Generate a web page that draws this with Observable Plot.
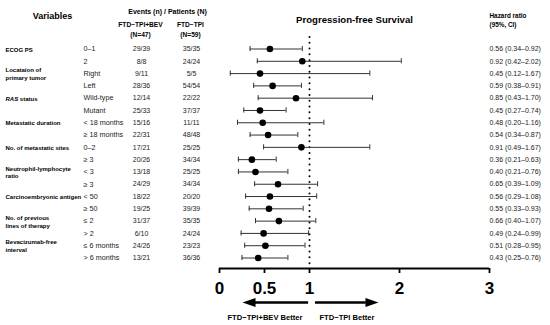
<!DOCTYPE html>
<html>
<head>
<meta charset="utf-8">
<script src="https://cdn.jsdelivr.net/npm/d3@7"></script>
<script src="https://cdn.jsdelivr.net/npm/@observablehq/plot@0.6"></script>
<style>
  html, body { margin: 0; padding: 0; background: #fff; }
  svg { display: block; }
</style>
</head>
<body>
<script>
// ---- data ----
const groups = ["ECOG PS", "Locataion of\nprimary tumor", "RAS status", "Metastatic duration",
  "No. of metastatic sites", "Neutrophil-lymphocyte\nratio", "Carcinoembryonic antigen",
  "No. of previous\nlines of therapy", "Bevacizumab-free\ninterval"];
const subgroups = ["0–1", "2", "Right", "Left", "Wild-type", "Mutant", "< 18 months", "≥ 18 months",
  "0–2", "≥ 3", "< 3", "≥ 3", "< 50", "≥ 50", "≤ 2", "> 2", "≤ 6 months", "> 6 months"];
const bevEvents = [29, 8, 9, 28, 12, 25, 15, 22, 17, 20, 13, 24, 18, 19, 31, 6, 24, 13];
const bevN      = [39, 8, 11, 36, 14, 33, 16, 31, 21, 26, 18, 29, 22, 25, 37, 10, 26, 21];
const tpiEvents = [35, 24, 5, 54, 22, 37, 11, 48, 25, 34, 25, 34, 20, 39, 35, 24, 23, 36];
const tpiN      = [35, 24, 5, 54, 22, 37, 11, 48, 25, 34, 25, 34, 20, 39, 35, 24, 23, 36];
const hr = [0.56, 0.92, 0.45, 0.59, 0.85, 0.45, 0.48, 0.54, 0.91, 0.36, 0.40, 0.65, 0.56, 0.55, 0.66, 0.49, 0.51, 0.43];
const lo = [0.34, 0.42, 0.12, 0.38, 0.43, 0.27, 0.20, 0.34, 0.49, 0.21, 0.21, 0.39, 0.29, 0.33, 0.40, 0.24, 0.28, 0.25];
const hi = [0.92, 2.02, 1.67, 0.91, 1.70, 0.74, 1.16, 0.87, 1.67, 0.63, 0.76, 1.09, 1.08, 0.93, 1.07, 0.99, 0.95, 0.76];
const xTicks = [0, 0.5, 1, 2, 3];

// ---- table built from arrays ----
const rows = subgroups.map((s, i) => ({
  row: i,
  sub: s,
  bev: `${bevEvents[i]}/${bevN[i]}`,
  tpi: `${tpiEvents[i]}/${tpiN[i]}`,
  hr: hr[i], lo: lo[i], hi: hi[i],
  hrText: `${hr[i].toFixed(2)} (${lo[i].toFixed(2)}–${hi[i].toFixed(2)})`
}));
const groupRows = groups.map((g, k) => ({row: 2 * k, label: g}));

// ---- layout constants ----
const AXIS_ROW = 17.855;      // axis line, in row units
const REF_TOP = -0.94;        // top of dotted reference line
const ARROW_ROW = 20.62;
const font = "'Liberation Sans', Arial, Helvetica, sans-serif";

// custom arrowhead symbol (pointing right)
const arrowHead = {
  draw(ctx, size) {
    const L = 13, W = 9;
    ctx.moveTo(L / 2, 0);
    ctx.lineTo(-L / 2, -W / 2);
    ctx.lineTo(-L / 2, W / 2);
    ctx.closePath();
  }
};
const arrows = [
  {x1: 0.99, x2: 0.345, head: 0.328, rot: 180},
  {x1: 1.067, x2: 1.63, head: 1.694, rot: 0}
];

const headerText = (text, dx, dy, size, anchor = "middle") =>
  Plot.text([text], {frameAnchor: "top-left", dx, dy, text: d => d, fontSize: size,
    fontWeight: "bold", textAnchor: anchor, lineAnchor: "middle", fill: "#000"});

const chart = Plot.plot({
  width: 550,
  height: 325,
  marginTop: 0, marginLeft: 0, marginRight: 0, marginBottom: 57,
  style: {fontFamily: font, background: "#fff", color: "#000"},
  x: {domain: [0, 3], range: [219, 489]},
  y: {domain: [0, 17], range: [48.5, 257.5], axis: null},
  marks: [
    // headers
    headerText("Variables", 52, 16, 9),
    headerText("Events (n) / Patients (N)", 167, 11, 7),
    headerText("FTD−TPI+BEV", 140, 24, 6.6),
    headerText("(N=47)", 140, 34, 6.6),
    headerText("FTD−TPI", 190, 24, 6.6),
    headerText("(N=59)", 190, 34, 6.6),
    headerText("Progression-free Survival", 354, 19, 9.6),
    headerText("Hazard ratio", 489, 15, 6.4, "start"),
    headerText("(95%, CI)", 489, 24.5, 6.4, "start"),
    headerText("FTD−TPI+BEV Better", 264.5, 317, 7.6),
    headerText("FTD−TPI Better", 346.5, 317, 7.6),

    // text columns
    Plot.text(groupRows, {y: "row", text: "label", frameAnchor: "left", dx: 5, textAnchor: "start",
      fontSize: 6, fontWeight: "bold", lineHeight: 1.3, fill: "#000"}),
    Plot.text(rows, {y: "row", text: "sub", frameAnchor: "left", dx: 83, textAnchor: "start", fontSize: 7.2, fill: "#222"}),
    Plot.text(rows, {y: "row", text: "bev", frameAnchor: "left", dx: 141, textAnchor: "middle", fontSize: 7, fill: "#222"}),
    Plot.text(rows, {y: "row", text: "tpi", frameAnchor: "left", dx: 191, textAnchor: "middle", fontSize: 7, fill: "#222"}),
    Plot.text(rows, {y: "row", text: "hrText", frameAnchor: "left", dx: 489, textAnchor: "start", fontSize: 7, fill: "#222"}),

    // reference line at HR = 1
    Plot.ruleX([1], {y1: REF_TOP, y2: AXIS_ROW, stroke: "#000", strokeWidth: 2,
      strokeDasharray: "0,5.8", strokeLinecap: "round"}),

    // confidence intervals
    Plot.ruleY(rows, {y: "row", x1: "lo", x2: "hi", stroke: "#333", strokeWidth: 1}),
    Plot.ruleX(rows, {x: "lo", y1: d => d.row - 0.21, y2: d => d.row + 0.21, stroke: "#333", strokeWidth: 1}),
    Plot.ruleX(rows, {x: "hi", y1: d => d.row - 0.21, y2: d => d.row + 0.21, stroke: "#333", strokeWidth: 1}),
    Plot.dot(rows, {x: "hr", y: "row", r: 3.3, fill: "#000", stroke: "none"}),

    // axis
    Plot.ruleY([AXIS_ROW], {x1: 0, x2: 3, stroke: "#000", strokeWidth: 1.8}),
    Plot.axisX({ticks: xTicks, tickSize: 5, tickPadding: 8, fontSize: 17, fontWeight: "bold",
      stroke: "#000", strokeWidth: 1.8, fill: "#000", tickFormat: d => `${d}`}),

    // direction arrows
    Plot.ruleY(arrows, {y: () => ARROW_ROW, x1: "x1", x2: "x2", stroke: "#000", strokeWidth: 2.4}),
    Plot.dot(arrows, {x: "head", y: () => ARROW_ROW, symbol: arrowHead, rotate: "rot", r: 1, fill: "#000", stroke: "none"})
  ]
});

document.body.appendChild(chart);

// italic "RAS"
chart.querySelectorAll("text").forEach(t => {
  if (t.textContent === "RAS status") {
    t.textContent = "";
    const ns = "http://www.w3.org/2000/svg";
    const a = document.createElementNS(ns, "tspan");
    a.setAttribute("font-style", "italic");
    a.textContent = "RAS";
    const b = document.createElementNS(ns, "tspan");
    b.textContent = " status";
    t.appendChild(a); t.appendChild(b);
  }
});
</script>
</body>
</html>
